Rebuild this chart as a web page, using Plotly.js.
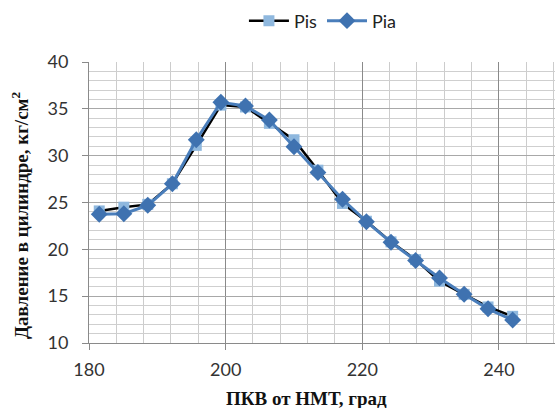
<!DOCTYPE html>
<html>
<head>
<meta charset="utf-8">
<script src="https://cdn.plot.ly/plotly-3.0.1.min.js"></script>
<style>html,body{margin:0;padding:0;background:#fff;}#chart{width:555px;height:408px;}</style>
</head>
<body>
<div id="chart"></div>
<script>
const crankAngle = [181.5, 185.1, 188.6, 192.2, 195.7, 199.3, 202.9, 206.4, 210.0, 213.5, 217.1, 220.6, 224.2, 227.8, 231.3, 234.9, 238.4, 242.0];
const pis = [24.1, 24.5, 24.8, 27.0, 31.1, 35.4, 35.2, 33.45, 31.7, 28.45, 24.9, 23.0, 20.8, 18.9, 16.6, 15.2, 13.85, 12.85];
const pia = [23.75, 23.8, 24.7, 27.0, 31.7, 35.7, 35.3, 33.8, 30.95, 28.2, 25.35, 22.95, 20.75, 18.8, 16.95, 15.2, 13.65, 12.45];
const xTitle = "ПКВ от НМТ, град";
const yTitle = "Давление в цилиндре, кг/см<sup>2</sup>";

const serif = "'Liberation Serif', 'DejaVu Serif', serif";

const traces = [
  {x: crankAngle, y: pis, name: "Pis", type: "scatter", mode: "lines+markers",
   line: {color: "#000000", width: 2.5},
   marker: {symbol: "square", size: 11, color: "#8FB8DE"}},
  {x: crankAngle, y: pia, name: "Pia", type: "scatter", mode: "lines+markers",
   line: {color: "#4A7EBB", width: 3},
   marker: {symbol: "diamond", size: 13, color: "#3F72B0"}}
];

const layout = {
  width: 555, height: 408,
  margin: {l: 89, r: 0, t: 62, b: 65},
  paper_bgcolor: "#ffffff", plot_bgcolor: "#ffffff",
  font: {family: "Lato, 'Liberation Sans', sans-serif", size: 18, color: "#333333"},
  showlegend: true,
  legend: {orientation: "h", x: 0.502, xanchor: "center", y: 1.146, yanchor: "middle",
           font: {size: 18, color: "#222"}, itemwidth: 40, traceorder: "normal"},
  xaxis: {
    range: [180, 248.2], dtick: 20, tick0: 180,
    showgrid: true, gridcolor: "#8a8a8a", gridwidth: 1,
    minor: {dtick: 4, showgrid: true, gridcolor: "#cccccc", gridwidth: 1},
    showline: true, linecolor: "#8a8a8a", linewidth: 1,
    ticks: "outside", ticklen: 6, tickcolor: "#8a8a8a", ticklabelstandoff: 4,
    zeroline: false, tickfont: {size: 18, color: "#333"}
  },
  yaxis: {
    range: [10, 40], dtick: 5, tick0: 10,
    showgrid: true, gridcolor: "#a8a8a8", gridwidth: 1,
    minor: {dtick: 1, showgrid: true, gridcolor: "#cfcfcf", gridwidth: 1},
    showline: true, linecolor: "#8a8a8a", linewidth: 1,
    ticks: "outside", ticklen: 6, tickcolor: "#8a8a8a", ticklabelstandoff: 10,
    zeroline: false, tickfont: {size: 18, color: "#333"}
  },
  annotations: [
    {text: xTitle, xref: "paper", yref: "paper", x: 0.4657, y: -0.196,
     xanchor: "center", yanchor: "middle", showarrow: false,
     font: {family: serif, size: 19, color: "#111", weight: "bold"}},
    {text: yTitle, xref: "paper", yref: "paper", x: -0.148, y: 0.4555,
     xanchor: "center", yanchor: "middle", showarrow: false, textangle: -90,
     font: {family: serif, size: 19, color: "#111", weight: "bold"}}
  ]
};

Plotly.newPlot("chart", traces, layout, {displayModeBar: false, staticPlot: true});
</script>
</body>
</html>
